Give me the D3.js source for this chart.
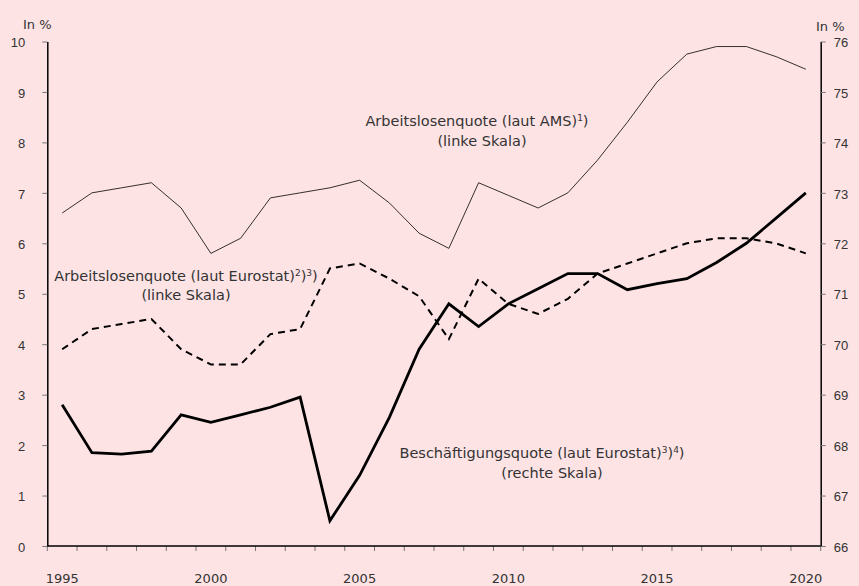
<!DOCTYPE html>
<html>
<head>
<meta charset="utf-8">
<script src="https://cdn.jsdelivr.net/npm/d3@7"></script>
<style>
  body { margin: 0; background: #fee3e5; }
  svg { display: block; font-family: "DejaVu Sans", sans-serif; }
  .axis text { fill: #333; font-size: 13px; }
</style>
</head>
<body>
<div id="chart"></div>
<script>
// Chart dimensions
const width = 859;
const height = 586;
const plotLeft = 47.3, plotRight = 820.7, plotTop = 41.5, plotBottom = 546;

// Data
const years = d3.range(1995, 2021);
const amsRate = [6.6, 7.0, 7.1, 7.2, 6.7, 5.8, 6.1, 6.9, 7.0, 7.1, 7.25, 6.8, 6.2, 5.9, 7.2, 6.95,
  6.7, 7.0, 7.65, 8.4, 9.2, 9.75, 9.9, 9.9, 9.7, 9.45];
const eurostatRate = [3.9, 4.3, 4.4, 4.5, 3.9, 3.6, 3.6, 4.2, 4.3, 5.5, 5.6, 5.3, 4.95, 4.1, 5.3, 4.8,
  4.6, 4.9, 5.4, 5.6, 5.8, 6.0, 6.1, 6.1, 6.0, 5.8];
const employmentRate = [68.8, 67.85, 67.82, 67.88, 68.6, 68.45, 68.6, 68.75, 68.95, 66.5, 67.4, 68.55,
  69.9, 70.8, 70.35, 70.8, 71.1, 71.4, 71.4, 71.08, 71.2, 71.3, 71.62, 72.0, 72.5, 73.0];
const leftTicks = d3.range(0, 11);
const rightTicks = d3.range(66, 77);
const yearLabels = [1995, 2000, 2005, 2010, 2015, 2020];

const svg = d3.select("#chart")
  .append("svg")
  .attr("width", width)
  .attr("height", height);

// Scales
const xScale = d3.scaleBand().domain(years).range([plotLeft, plotRight]);
const xMid = (yr) => xScale(yr) + xScale.bandwidth() / 2;
const yLeft = d3.scaleLinear().domain([0, 10]).range([plotBottom, plotTop]);
const yRight = d3.scaleLinear().domain([66, 76]).range([plotBottom, plotTop]);

// Y axes
const leftAxis = svg.append("g")
  .attr("class", "axis")
  .attr("transform", `translate(${plotLeft},0)`)
  .call(d3.axisLeft(yLeft).tickValues(leftTicks).tickSize(5).tickPadding(17).tickSizeOuter(0));

const rightAxis = svg.append("g")
  .attr("class", "axis")
  .attr("transform", `translate(${plotRight},0)`)
  .call(d3.axisRight(yRight).tickValues(rightTicks).tickSize(5).tickPadding(8).tickSizeOuter(0));

[leftAxis, rightAxis].forEach((g) => {
  g.select(".domain").attr("stroke", "#000").attr("stroke-width", 1.5);
  g.selectAll(".tick line").attr("stroke", "#777");
  g.selectAll(".tick text").attr("dy", "0.4em");
});

// X axis: ticks at band edges, labels at band centres
const xAxis = svg.append("g").attr("class", "axis");
xAxis.selectAll("line.tk")
  .data(years.concat([null]))
  .join("line")
  .attr("class", "tk")
  .attr("x1", (d) => (d === null ? plotRight : xScale(d)))
  .attr("x2", (d) => (d === null ? plotRight : xScale(d)))
  .attr("y1", plotBottom)
  .attr("y2", plotBottom + 5)
  .attr("stroke", "#777");
xAxis.append("line")
  .attr("x1", plotLeft).attr("x2", plotRight)
  .attr("y1", plotBottom).attr("y2", plotBottom)
  .attr("stroke", "#000").attr("stroke-width", 1.5);
xAxis.selectAll("text")
  .data(yearLabels)
  .join("text")
  .attr("x", (d) => xMid(d))
  .attr("y", 583)
  .attr("text-anchor", "middle")
  .text((d) => d);

// Unit labels
svg.append("text").attr("x", 23).attr("y", 29).attr("fill", "#333").attr("font-size", 13).text("In %");
svg.append("text").attr("x", 816).attr("y", 31).attr("fill", "#333").attr("font-size", 13).text("In %");

// Lines
const lineLeft = d3.line().x((d, i) => xMid(years[i])).y((d) => yLeft(d));
const lineRight = d3.line().x((d, i) => xMid(years[i])).y((d) => yRight(d));

svg.append("path")
  .datum(amsRate)
  .attr("d", lineLeft)
  .attr("fill", "none")
  .attr("stroke", "#000")
  .attr("stroke-width", 0.8);

svg.append("path")
  .datum(eurostatRate)
  .attr("d", lineLeft)
  .attr("fill", "none")
  .attr("stroke", "#000")
  .attr("stroke-width", 2)
  .attr("stroke-dasharray", "7,5");

svg.append("path")
  .datum(employmentRate)
  .attr("d", lineRight)
  .attr("fill", "none")
  .attr("stroke", "#000")
  .attr("stroke-width", 2.8)
  .attr("stroke-linejoin", "miter");

// Series labels; footnote numbers as list of strings, written as superscripts
function label(x, y, text, notes) {
  const t = svg.append("text")
    .attr("x", x).attr("y", y)
    .attr("text-anchor", "middle")
    .attr("fill", "#333")
    .attr("font-size", 14.5);
  t.append("tspan").text(text);
  notes.forEach((n) => {
    t.append("tspan").attr("font-size", 9).attr("dy", -5).text(n);
    t.append("tspan").attr("dy", 5).text(")");
  });
}

label(477, 126, "Arbeitslosenquote (laut AMS)", ["1"]);
label(482, 146, "(linke Skala)", []);
label(186, 281, "Arbeitslosenquote (laut Eurostat)", ["2", "3"]);
label(186, 300, "(linke Skala)", []);
label(542, 458, "Beschäftigungsquote (laut Eurostat)", ["3", "4"]);
label(552, 478, "(rechte Skala)", []);
</script>
</body>
</html>
